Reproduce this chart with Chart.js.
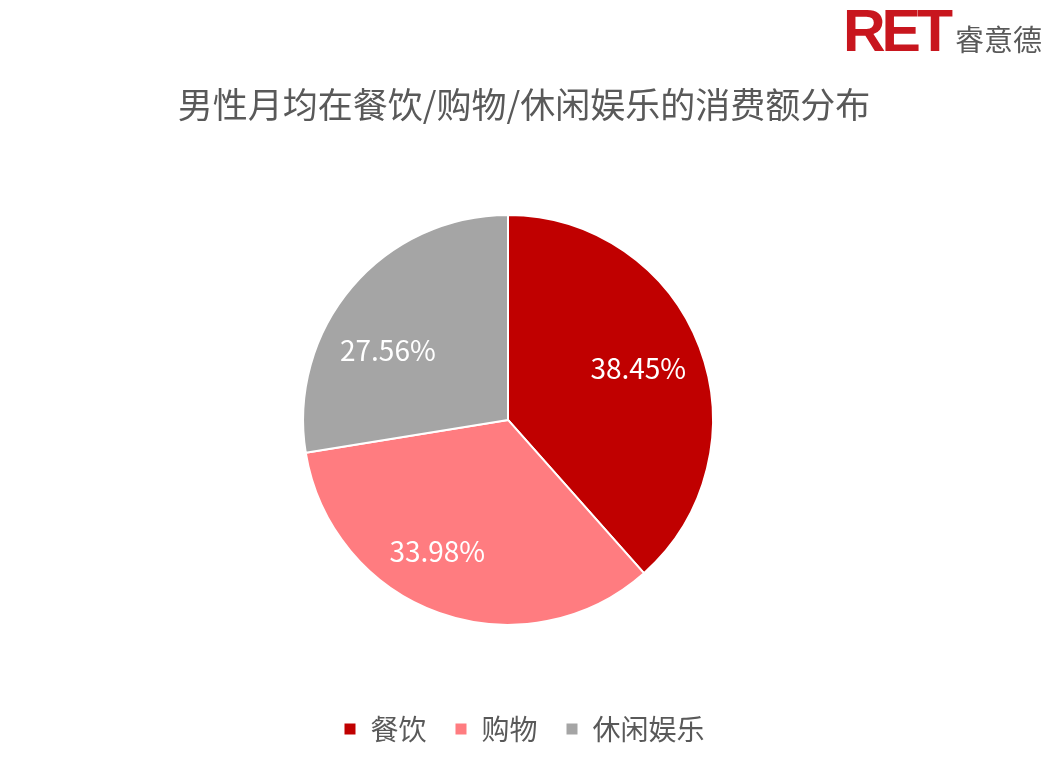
<!doctype html>
<html lang="zh">
<head>
  <meta charset="utf-8">
  <title>男性月均在餐饮/购物/休闲娱乐的消费额分布</title>
  <script src="https://cdn.jsdelivr.net/npm/chart.js@4.4.1/dist/chart.umd.min.js"></script>
  <style>
    html, body { margin: 0; padding: 0; background: #fff; }
    .wrap { position: relative; width: 1048px; height: 768px; }
    .logo { position: absolute; left: 843px; top: -3px; white-space: nowrap; }
    .logo .ret { font-family: "Liberation Sans", Arial, sans-serif; font-weight: bold; font-size: 59px; letter-spacing: -4px; color: #c8161e; }
    .logo .cn { font-family: "Noto Sans CJK SC", sans-serif; font-size: 29px; color: #595959; margin-left: 6px; }
  </style>
</head>
<body>
<div class="wrap">
  <div class="logo"><span class="ret">RET</span><span class="cn">睿意德</span></div>
  <canvas id="myChart" width="1048" height="768"></canvas>
</div>
<script>
  const categories = ['餐饮', '购物', '休闲娱乐'];
  const shares = [38.45, 33.98, 27.56];
  const colors = ['#c00000', '#ff7c80', '#a5a5a5'];
  const titleText = '男性月均在餐饮/购物/休闲娱乐的消费额分布';

  const cjk = '"Noto Sans CJK SC", "Microsoft YaHei", sans-serif';

  // the pie sits a little left of the page centre, title and legend don't
  const pieShift = {
    id: 'pieShift',
    afterLayout(chart) {
      chart.chartArea.left -= 16;
      chart.chartArea.right -= 16;
    }
  };

  // write the percentage inside each slice
  const labelNudge = [[0, -2], [-24, 0], [-14, 21]];
  const sliceLabels = {
    id: 'sliceLabels',
    afterDatasetsDraw(chart) {
      const ctx = chart.ctx;
      const meta = chart.getDatasetMeta(0);
      ctx.save();
      ctx.fillStyle = '#ffffff';
      ctx.font = '28px ' + cjk;
      ctx.textAlign = 'center';
      ctx.textBaseline = 'middle';
      meta.data.forEach((arc, i) => {
        const p = arc.getProps(['x', 'y', 'startAngle', 'endAngle', 'outerRadius']);
        const mid = (p.startAngle + p.endAngle) / 2;
        const r = p.outerRadius * 0.68;
        ctx.fillText(shares[i].toFixed(2) + '%',
          p.x + Math.cos(mid) * r + labelNudge[i][0],
          p.y + Math.sin(mid) * r + labelNudge[i][1]);
      });
      ctx.restore();
    }
  };

  new Chart(document.getElementById('myChart'), {
    type: 'pie',
    data: {
      labels: categories,
      datasets: [{
        data: shares,
        backgroundColor: colors,
        borderColor: '#ffffff',
        borderWidth: 2
      }]
    },
    options: {
      responsive: false,
      animation: false,
      layout: { padding: { left: 0, right: 0, top: 0, bottom: 15 } },
      plugins: {
        title: {
          display: true,
          text: titleText,
          color: '#595959',
          font: { family: cjk, size: 35, weight: 'normal' },
          padding: { top: 84, bottom: 88 }
        },
        legend: {
          position: 'bottom',
          title: {
            display: true,
            text: '',
            font: { size: 1 },
            padding: { top: 0, bottom: 60 }
          },
          labels: {
            color: '#595959',
            font: { family: cjk, size: 28 },
            boxWidth: 13,
            boxHeight: 13,
            padding: 28
          }
        },
        tooltip: { enabled: false }
      }
    },
    plugins: [pieShift, sliceLabels]
  });
</script>
</body>
</html>
